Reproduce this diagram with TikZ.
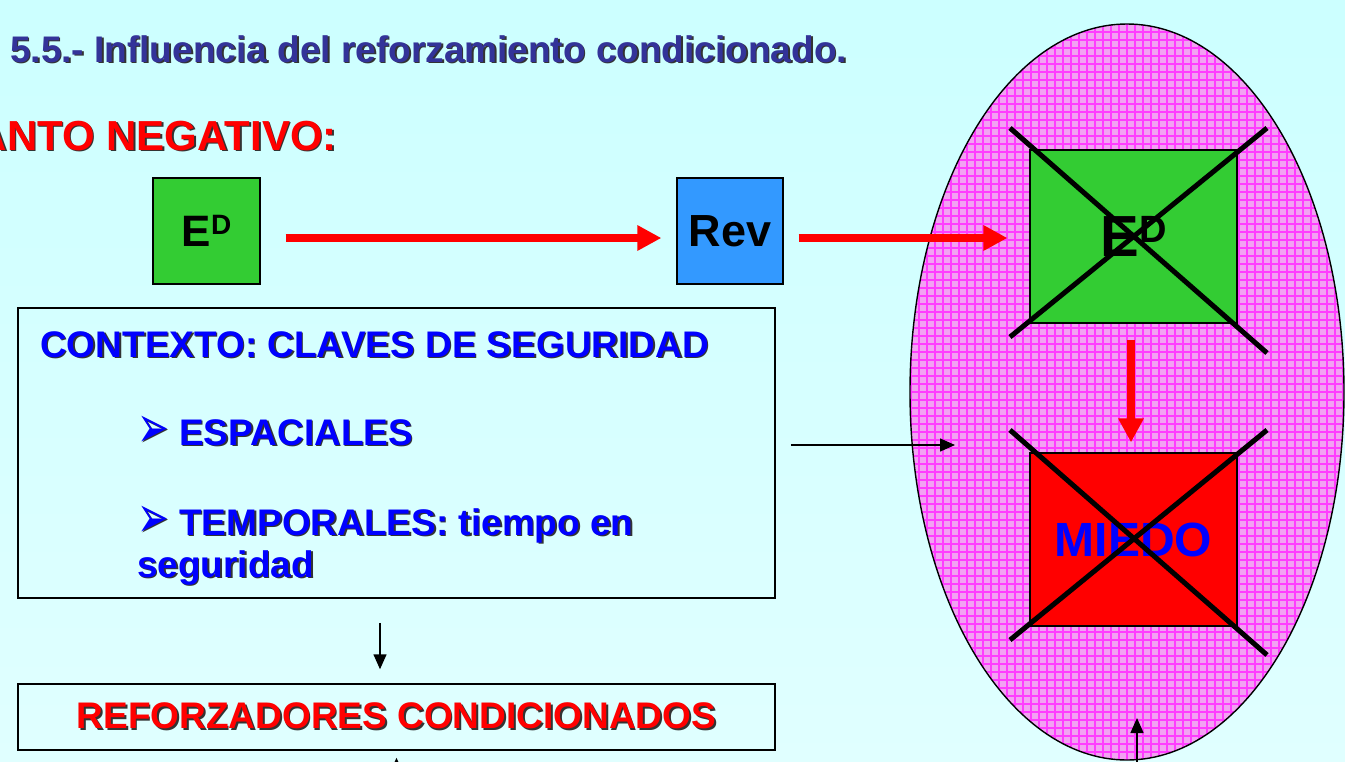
\documentclass[tikz,border=0pt]{standalone}
\usepackage{fontspec}
\setmainfont{Liberation Sans}
\newfontfamily\dejavu{DejaVu Sans}
\usetikzlibrary{arrows.meta,shapes.geometric}
\definecolor{bgtop}{HTML}{CCFFFF}
\definecolor{bgbot}{HTML}{E0FFFF}
\definecolor{titleblue}{HTML}{333399}
\definecolor{txtblue}{HTML}{0000FF}
\definecolor{edgreen}{HTML}{33CC33}
\definecolor{revblue}{HTML}{3399FF}
\definecolor{pinkfill}{HTML}{F2A2F2}
\definecolor{pinkgrid}{HTML}{FF3CFF}
\newcommand\shtxt[2]{\makebox[0pt][l]{\hspace{1.6pt}\raisebox{-1.6pt}{\color{black!80}#2}}{\color{#1}#2}}
\newcommand\fsz[1]{\fontsize{#1}{#1}\selectfont}
\newcommand\bul{\raisebox{-2pt}{\scalebox{1}[1.55]{\dejavu\fsz{38}➢}}}
\begin{document}
\begin{tikzpicture}[x=1pt,y=-1pt,
  box/.style={draw=black, line width=1.2pt, inner sep=0pt},
  redarrow/.style={draw=red, line width=8pt, -{Triangle[length=24pt,width=24pt]}},
  blackarrow/.style={draw=black, line width=1.5pt, -{Triangle[length=15pt,width=13pt]}},
  crossline/.style={line width=5pt, draw=black},
  txt/.style={inner sep=0pt, font=\bfseries}]
\useasboundingbox (0,0) rectangle (1345,761);
\shade[top color=bgtop, bottom color=bgbot] (0,0) rectangle (1345,761);

% titles
\node[txt, anchor=base west] (title) at (10,62) {\fsz{37}\shtxt{titleblue}{5.5.- Influencia del reforzamiento condicionado.}};
\node[txt, anchor=base east] (neg) at (337,150) {\fsz{42}\shtxt{red}{ANTO NEGATIVO:}};

% left row
\node[box, fill=edgreen, minimum width=107pt, minimum height=106pt] (ed1) at (206.5,231) {\fsz{44}\bfseries E\raisebox{12pt}{\fsz{28}D}};
\node[box, fill=revblue, minimum width=106pt, minimum height=106pt] (rev) at (730,231) {\fsz{45}\bfseries Rev};

% ellipse
\node[ellipse, draw=black, line width=1.4pt, fill=pinkfill, minimum width=434pt, minimum height=736pt, inner sep=0pt,
  path picture={\draw[pinkgrid, line width=1.1pt] (path picture bounding box.south west) grid[step=8pt] (path picture bounding box.north east);}] (ell) at (1127,392) {};

\node[box, fill=edgreen, minimum width=207pt, minimum height=173pt] (ed2) at (1133.5,236.5) {\fsz{58}\bfseries E\raisebox{14pt}{\fsz{38}D}};
\node[box, fill=red, minimum width=207pt, minimum height=173pt] (miedo) at (1133.5,539.5) {\fsz{48}\bfseries\color{txtblue}MIEDO};

\draw[crossline] (1010,128) -- (1267,353);
\draw[crossline] (1267,128) -- (1010,337);
\draw[crossline] (1010,430) -- (1267,655);
\draw[crossline] (1267,430) -- (1010,640);

% context box
\node[box, line width=1.5pt, minimum width=757pt, minimum height=290pt] (ctx) at (396.5,453) {};
\node[txt, anchor=base west] (ctxt1) at (40,357) {\fsz{37}\shtxt{txtblue}{CONTEXTO: CLAVES DE SEGURIDAD}};
\node[txt, anchor=base west] (ctxt2) at (137,445) {\fsz{37}\shtxt{txtblue}{\bul\ ESPACIALES}};
\node[txt, anchor=base west] (ctxt3) at (137,535) {\fsz{37}\shtxt{txtblue}{\bul\ TEMPORALES: tiempo en}};
\node[txt, anchor=base west] (ctxt4) at (137,577) {\fsz{37}\shtxt{txtblue}{seguridad}};

\node[box, line width=1.5pt, minimum width=757pt, minimum height=66pt] (refz) at (396.5,717) {\fsz{37}\bfseries\shtxt{red}{REFORZADORES CONDICIONADOS}};

% connectors
\coordinate (a1) at ([yshift=-7pt]ed1.east);
\coordinate (a2) at ([yshift=-7pt]rev.east);
\draw[redarrow, shorten <=25pt, shorten >=15pt] (a1) -- (a1 -| rev.west);
\draw[redarrow, shorten <=15pt, shorten >=22pt] (a2) -- (a2 -| ed2.west);
\draw[redarrow, shorten <=16pt, shorten >=10pt] ([xshift=-2.5pt]ed2.south) -- ([xshift=-2.5pt]miedo.north);

\coordinate (ctxin) at (955,445);
\draw[blackarrow, shorten <=15pt] (ctx.east |- ctxin) -- (ctxin);
\draw[blackarrow, shorten <=24pt, shorten >=14pt] ([xshift=-16.5pt]ctx.south) -- ([xshift=-16.5pt]refz.north);
\coordinate (ellbot) at (1137,800);
\coordinate (elltip) at (1137,718);
\draw[blackarrow] (ellbot) -- (elltip);
\coordinate (refbot) at (396.5,800);
\draw[blackarrow] (refbot) -- ([yshift=-7pt]refz.south);
\end{tikzpicture}
\end{document}
